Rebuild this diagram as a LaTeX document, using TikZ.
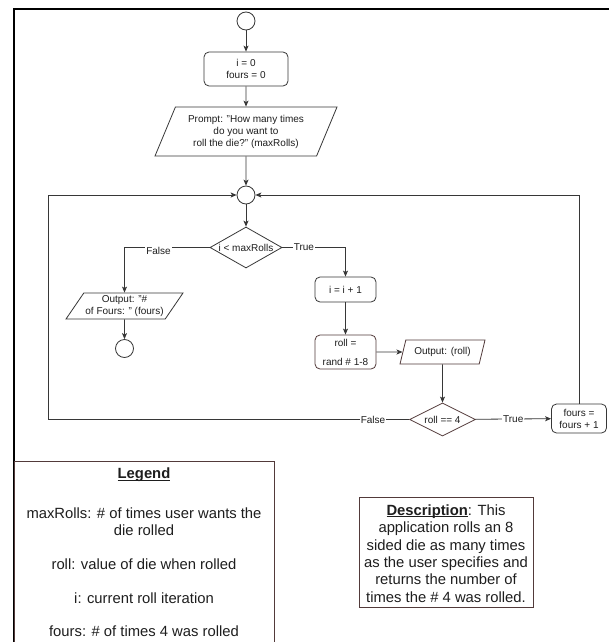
\documentclass[tikz,border=0pt]{standalone}
\usepackage{fontspec}
\setmainfont{Liberation Sans}
\usetikzlibrary{shapes.geometric, arrows.meta}

\definecolor{lineclr}{RGB}{55,55,55}
\definecolor{edgebrown}{RGB}{82,58,58}
\definecolor{txtclr}{RGB}{30,30,30}

% bold heading with a close, thin underline
\newcommand{\ulhead}[1]{\setbox0\hbox{\textbf{#1}}\rlap{\rule[-1.7pt]{\wd0}{0.9pt}}\box0}

\begin{document}
\begin{tikzpicture}[x=1pt, y=-1pt,
  every node/.style={font=\fontsize{10}{12}\selectfont, text=txtclr},
  base/.style={draw=lineclr, line width=0.8pt, fill=white, inner sep=0pt, align=center},
  termc/.style={base, circle, minimum size=18pt},
  procbox/.style={base, rectangle, rounded corners=5pt},
  io/.style={base, trapezium, trapezium stretches body},
  decision/.style={base, diamond},
  brownline/.style={draw=edgebrown},
  arr/.style={draw=lineclr, line width=0.8pt, -{Stealth[length=6pt, width=5pt, inset=1.5pt]}},
  lbl/.style={fill=white, inner sep=1pt},
  panel/.style={draw=edgebrown, line width=0.9pt, fill=white, inner sep=0pt},
  bigtext/.style={font=\fontsize{14.8}{17}\selectfont, align=center, inner sep=0pt}
]
\useasboundingbox (0,0) rectangle (609,642);
\fill[white] (0,0) rectangle (609,642);
\clip (0,0) rectangle (609,642);

% outer page frame
\draw[line width=2.2pt, black, line join=miter] (14,700) -- (14,9) -- (700,9);

% flowchart nodes
\node[termc] (start) at (246,21) {};
\node[procbox, minimum width=84pt, minimum height=34pt] (init) at (246,69) {i = 0\\fours = 0};
\node[io, trapezium left angle=58.5, trapezium right angle=121.5,
      minimum width=182pt, minimum height=49pt] (prompt) at (246,131.5)
      {Prompt: "How many times\\do you want to\\roll the die?" (maxRolls)};
\node[termc] (merge) at (246,195) {};
\node[decision, shape aspect=1.76, minimum width=72pt, minimum height=41pt] (dec1) at (246,247.5) {i < maxRolls};
\node[io, trapezium left angle=49.8, trapezium right angle=130.2,
      minimum width=117pt, minimum height=26pt] (outF) at (124.5,306)
      {Output: "\#\\of Fours: " (fours)};
\node[termc] (stop) at (124.5,348.5) {};
\node[procbox, minimum width=61pt, minimum height=25pt] (inc) at (345.5,289.5) {i = i + 1};
\node[procbox, brownline, minimum width=61pt, minimum height=34pt] (roll) at (345.5,352) {roll =\\[7pt]rand \# 1-8};
\node[io, brownline, trapezium left angle=58, trapezium right angle=122,
      minimum width=85pt, minimum height=24pt] (outR) at (442.5,352) {Output: (roll)};
\node[decision, brownline, shape aspect=2, minimum width=66pt, minimum height=33pt] (dec2) at (442.5,419.5) {roll == 4};
\node[procbox, minimum width=55pt, minimum height=29pt] (inc4) at (579,418.5) {fours =\\fours + 1};
\coordinate (loopL) at (48,195);

% connectors
\draw[arr] (start) -- (init);
\draw[arr] (init) -- (prompt);
\draw[arr] (prompt) -- (merge);
\draw[arr] (merge) -- (dec1);
\draw[arr] (dec1.west) -| node[lbl, pos=0.3, yshift=-3pt]{False} (outF.north);
\draw[arr] (dec1.east) -| node[lbl, pos=0.17]{True} (inc.north);
\draw[arr] (outF) -- (stop);
\draw[arr] (inc) -- (roll);
\draw[arr] (roll) -- (outR);
\draw[arr] (outR) -- (dec2);
\draw[arr] (dec2.west) -- node[lbl, pos=0.1]{False} (dec2.west -| loopL) -- (loopL) -- (merge.west);
\draw[arr] (dec2) -- node[lbl]{True} (inc4);
\draw[arr] (inc4.north) |- (merge.east);

% legend panel
\node[panel, anchor=north west, minimum width=260pt, minimum height=220pt] (legend) at (14,461) {};
\node[bigtext] (legtitle) at (144,475) {\ulhead{Legend}};
\node[bigtext] (legbody) at (144,572.5)
  {maxRolls: \# of times user wants the\\die rolled\\[16.8pt]roll: value of die when rolled\\[16.8pt]i: current roll iteration\\[16.8pt]fours: \# of times 4 was rolled};

% description panel
\node[panel, minimum width=174pt, minimum height=110pt] (descbox) at (446,552) {};
\node[bigtext, font=\fontsize{14.8}{17.4}\selectfont] (desc) at (446,553.5)
  {\ulhead{Description}: This\\application rolls an 8\\sided die as many times\\as the user specifies and\\returns the number of\\times the \# 4 was rolled.};
\end{tikzpicture}
\end{document}
